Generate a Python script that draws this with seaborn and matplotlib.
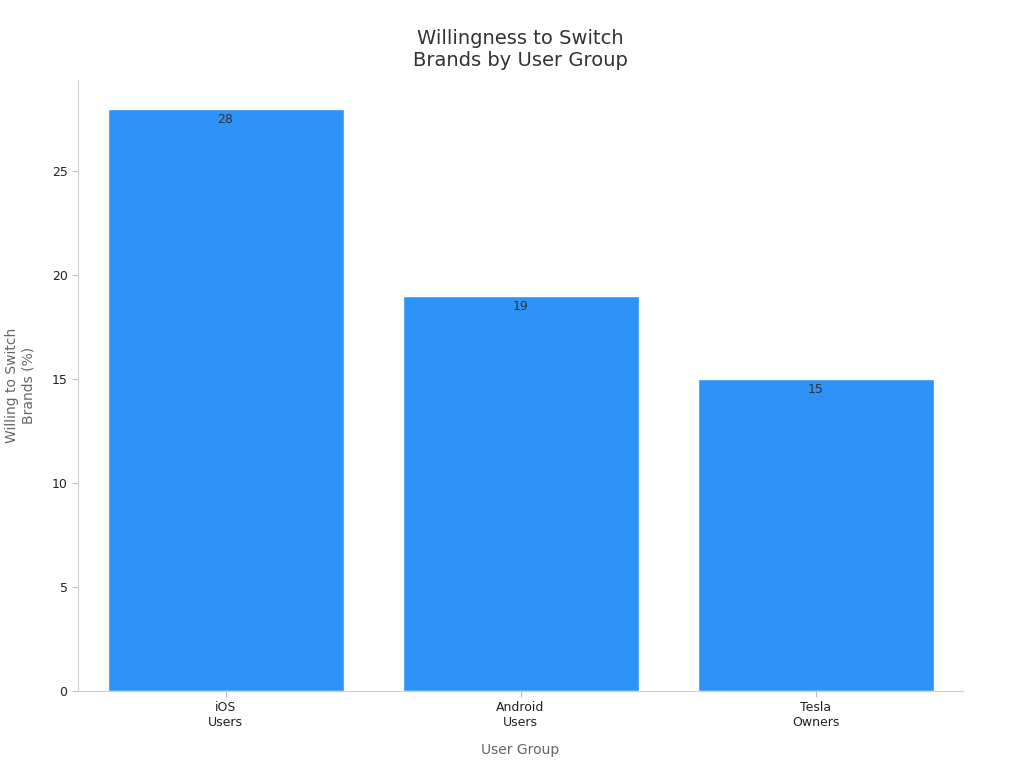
import seaborn as sns
import matplotlib.pyplot as plt

groups = ["iOS\nUsers", "Android\nUsers", "Tesla\nOwners"]
values = [28, 19, 15]

sns.set_style("white")
plt.rcParams['font.family'] = ['DejaVu Sans']

fig = plt.figure(figsize=(10.24, 7.68), dpi=100)
ax = fig.add_axes([78/1024, 1 - 691/768, (963 - 78)/1024, (691 - 80)/768])

sns.barplot(x=groups, y=values, color="#2E93F7", saturation=1, width=0.8,
            edgecolor="white", linewidth=1, ax=ax)

for i, v in enumerate(values):
    ax.text(i, v - 0.2, str(v), ha="center", va="top", fontsize=9, color="#333333")

ax.set_xlim(-0.5, 2.5)
ax.set_ylim(0, 29.4)
ax.set_yticks([0, 5, 10, 15, 20, 25])
ax.tick_params(axis="both", left=True, bottom=True, labelsize=9,
               labelcolor="#222222", color="#bbbbbb", length=4)
for s in ["top", "right"]:
    ax.spines[s].set_visible(False)
for s in ["left", "bottom"]:
    ax.spines[s].set_color("#d0d0d0")

ax.set_xlabel("User Group", fontsize=10, color="#666666", labelpad=10)
ax.set_ylabel("Willing to Switch\nBrands (%)", fontsize=10, color="#666666", labelpad=12)
ax.set_title("Willingness to Switch\nBrands by User Group", fontsize=14, color="#333333", pad=10)

fig.savefig("out.png", dpi=100)
